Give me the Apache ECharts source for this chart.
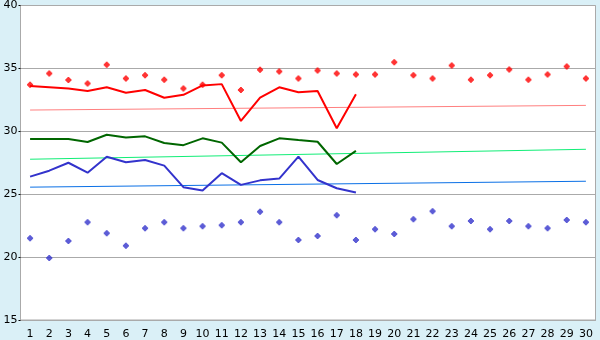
<!DOCTYPE html>
<html><head><meta charset="utf-8">
<script src="https://cdn.jsdelivr.net/npm/echarts@6/dist/echarts.min.js"></script>
<style>html,body{margin:0;padding:0;background:#daf0f7}#c{width:600px;height:340px}</style>
</head><body><div id="c"></div>
<script>
var days = ['1','2','3','4','5','6','7','8','9','10','11','12','13','14','15','16','17','18','19','20','21','22','23','24','25','26','27','28','29','30'];
var yTicks = [15, 20, 25, 30, 35, 40];
var redMarks = [33.7,34.6,34.07,33.8,35.3,34.2,34.45,34.1,33.4,33.7,34.45,33.28,34.9,34.76,34.2,34.84,34.6,34.52,34.52,35.48,34.45,34.2,35.24,34.1,34.45,34.92,34.1,34.52,35.16,34.2];
var redLine = [33.6,33.5,33.4,33.2,33.5,33.07,33.28,32.67,32.9,33.65,33.75,30.82,32.67,33.5,33.1,33.2,30.24,32.94];
var greenLine = [29.39,29.39,29.39,29.15,29.73,29.5,29.6,29.07,28.9,29.44,29.1,27.54,28.83,29.44,29.3,29.17,27.4,28.44];
var blueLine = [26.4,26.87,27.5,26.71,27.98,27.54,27.72,27.27,25.56,25.29,26.67,25.74,26.1,26.24,27.98,26.13,25.47,25.13];
var blueMarks = [21.5,19.92,21.27,22.78,21.9,20.9,22.3,22.78,22.3,22.46,22.54,22.78,23.6,22.78,21.35,21.67,23.33,21.35,22.22,21.83,23.0,23.65,22.46,22.86,22.22,22.86,22.46,22.3,22.94,22.78];
// trend lines: value at first day and last day
var redTrend = [31.69, 32.06];
var greenTrend = [27.78, 28.57];
var blueTrend = [25.56, 26.03];

function trend(ends){
  var d = days.map(function(){return null;});
  d[0] = ends[0]; d[days.length-1] = ends[1];
  return d;
}
var mark = 'path://M-1,-3L1,-3L1,-2L2,-2L2,-1L3,-1L3,1L2,1L2,2L1,2L1,3L-1,3L-1,2L-2,2L-2,1L-3,1L-3,-1L-2,-1L-2,-2L-1,-2Z';
var chart = echarts.init(document.getElementById('c'));
chart.setOption({
  animation: false,
  backgroundColor: '#daf0f7',
  grid: {left: 20.5, right: 4.5, top: 5.3, bottom: 19.7, show: true, backgroundColor: '#fff', borderColor: '#aaa', borderWidth: 1},
  xAxis: {
    type: 'category', data: days, boundaryGap: true,
    axisLine: {lineStyle: {color: '#aaa'}},
    axisTick: {alignWithLabel: true, length: 6, lineStyle: {color: '#000'}},
    axisLabel: {interval: 0, color: '#000', fontFamily: 'DejaVu Sans', fontSize: 11, margin: 9}
  },
  yAxis: {
    type: 'value', min: yTicks[0], max: yTicks[yTicks.length-1], interval: 5,
    axisLine: {show: true, lineStyle: {color: '#aaa'}},
    axisTick: {show: true, length: 2, lineStyle: {color: '#000'}},
    axisLabel: {color: '#000', fontFamily: 'DejaVu Sans', fontSize: 11, margin: 3},
    splitLine: {lineStyle: {color: '#aaa', width: 1}}
  },
  series: [
    {type: 'line', data: trend(redTrend), connectNulls: true, showSymbol: false, lineStyle: {color: '#ff8080', width: 1}, z: 1},
    {type: 'line', data: trend(greenTrend), connectNulls: true, showSymbol: false, lineStyle: {color: '#11ee77', width: 1}, z: 1},
    {type: 'line', data: trend(blueTrend), connectNulls: true, showSymbol: false, lineStyle: {color: '#0a70e6', width: 1}, z: 1},
    {type: 'line', data: redLine, showSymbol: false, lineStyle: {color: '#ff0000', width: 2}, z: 3},
    {type: 'line', data: greenLine, showSymbol: false, lineStyle: {color: '#006600', width: 2}, z: 3},
    {type: 'line', data: blueLine, showSymbol: false, lineStyle: {color: '#3333cc', width: 2}, z: 3},
    {type: 'scatter', data: redMarks, symbol: mark, symbolSize: 6, itemStyle: {color: '#ff0000'}, z: 4},
    {type: 'scatter', data: blueMarks, symbol: mark, symbolSize: 6, itemStyle: {color: '#3333cc'}, z: 4}
  ]
});
</script></body></html>
